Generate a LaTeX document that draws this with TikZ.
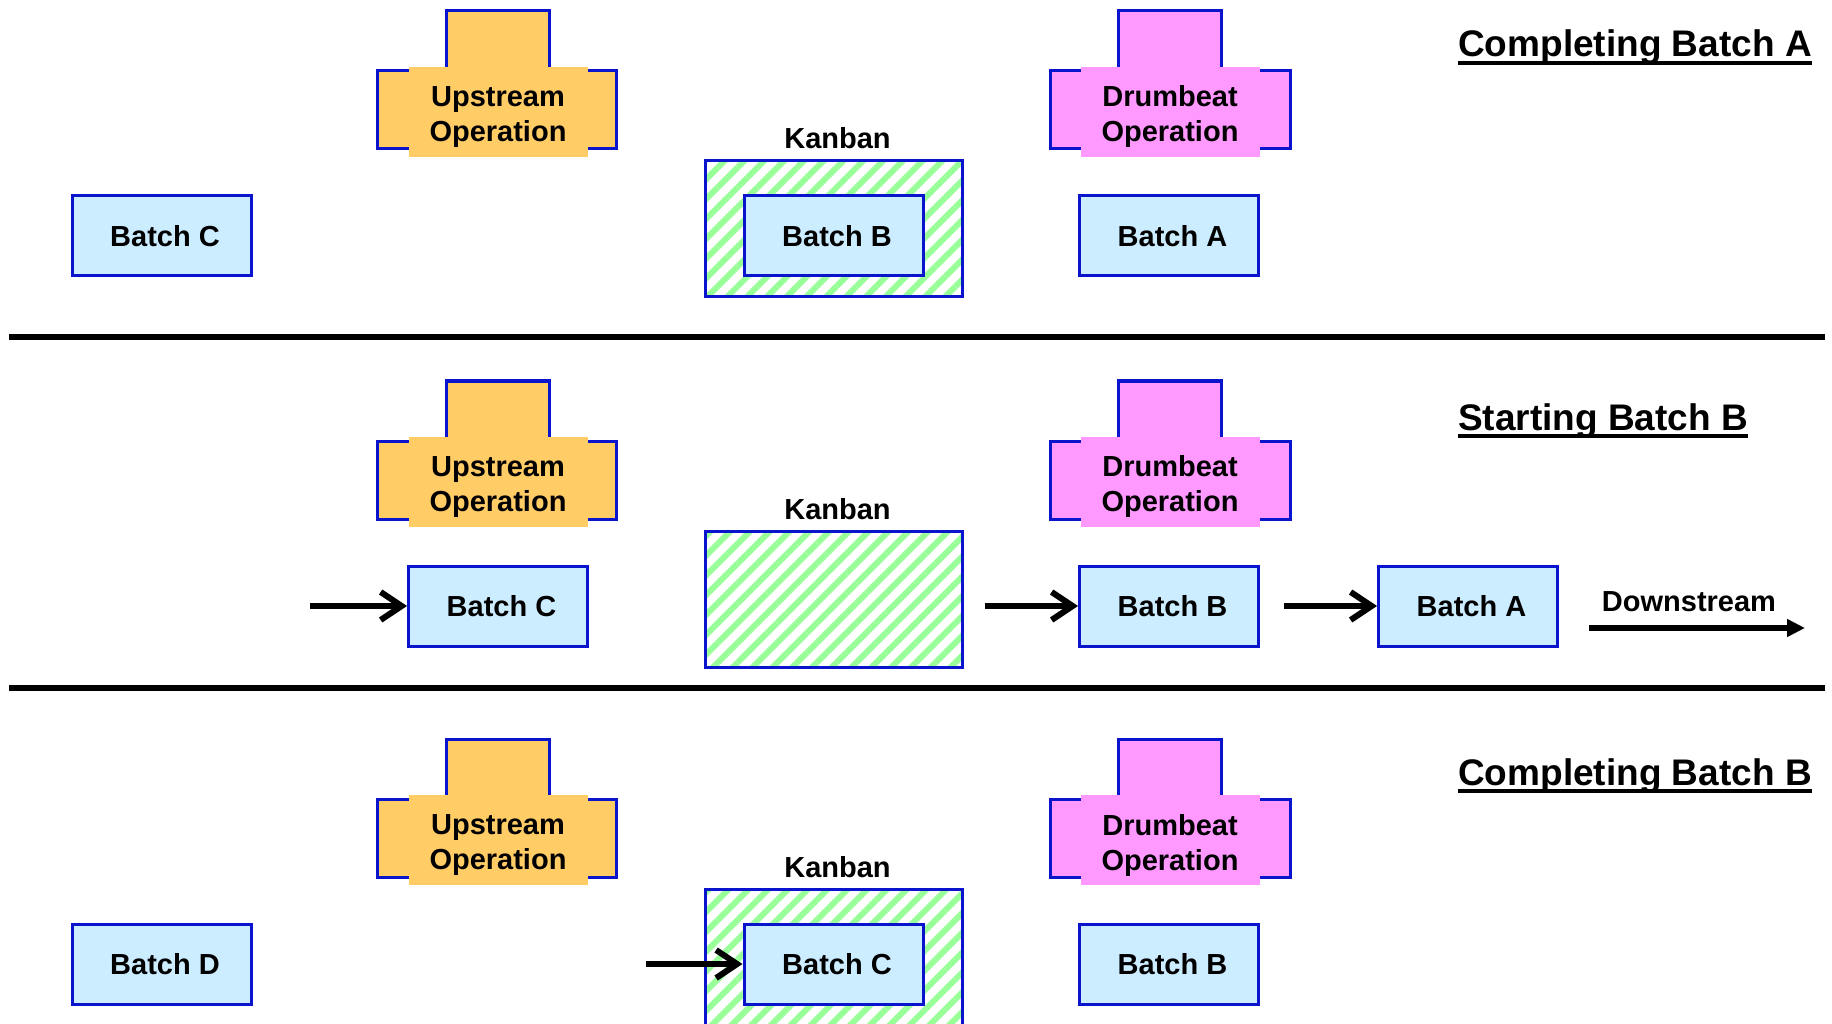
\documentclass[tikz,border=0pt]{standalone}
\usepackage{fontspec}
\setmainfont{Liberation Sans}
\usetikzlibrary{arrows.meta}
\usetikzlibrary{patterns.meta}
\usetikzlibrary{calc}
\usetikzlibrary{positioning}

\definecolor{opyellow}{RGB}{255,204,102}
\definecolor{drumpink}{RGB}{255,153,255}
\definecolor{batchblue}{RGB}{204,236,255}
\definecolor{edgeblue}{RGB}{10,20,204}
\definecolor{kangreen}{RGB}{153,255,153}

\begin{document}
\begin{tikzpicture}[x=1pt,y=-1pt,
    lbl/.style={inner sep=0pt,font=\fontsize{29}{35}\selectfont\bfseries},
    batch/.style={lbl,draw=edgeblue,line width=3pt,fill=batchblue,
      minimum width=179pt,minimum height=80pt,
      execute at begin node=\hspace*{7pt}},
    opfill/.style={inner sep=0pt,minimum width=179pt,minimum height=90pt},
    opedge/.style={draw=edgeblue,line width=3pt},
    kanbox/.style={draw=edgeblue,line width=3pt,inner sep=0pt,
      minimum width=257pt,minimum height=136pt,
      pattern={Lines[angle=45,distance=14pt,line width=6pt]},pattern color=kangreen},
    title/.style={inner sep=0pt,font=\fontsize{37}{44}\selectfont\bfseries},
    uline/.style={line width=3.5pt},
    sep/.style={line width=6pt},
    flow/.style={line width=6pt,-{Straight Barb[length=21pt,width=28pt]}},
    outflow/.style={line width=5.5pt,-{Triangle[length=18pt,width=17pt]}}]
\useasboundingbox (0,0) rectangle (1832,1024);
\clip (0,0) rectangle (1832,1024);

% the two operations and the kanban, same in each panel
\foreach \p/\dy in {1/0,2/370,3/728}{
  \coordinate (up\p) at (498,112+\dy);
  \filldraw[opedge,fill=opyellow] ($(up\p)+(-51.5,-101)$) rectangle ($(up\p)+(51.5,-41)$);
  \filldraw[opedge,fill=opyellow] ($(up\p)+(-120.5,-41)$) rectangle ($(up\p)+(118.5,37)$);
  \node[opfill,fill=opyellow] (upf\p) at (up\p) {};
  \node[lbl,align=center] (upl\p) at ([yshift=-5pt]up\p) {Upstream\\Operation};

  \coordinate (drum\p) at (1170,112+\dy);
  \filldraw[opedge,fill=drumpink] ($(drum\p)+(-51.5,-101)$) rectangle ($(drum\p)+(51.5,-41)$);
  \filldraw[opedge,fill=drumpink] ($(drum\p)+(-120,-41)$) rectangle ($(drum\p)+(120,37)$);
  \node[opfill,fill=drumpink] (drumf\p) at (drum\p) {};
  \node[lbl,align=center] (druml\p) at ([yshift=-5pt]drum\p) {Drumbeat\\Operation};

  \node[kanbox] (kan\p) at (833.5,229+\dy) {};
  \node[lbl,above=9.5pt of kan\p,xshift=4pt] (kanl\p) {Kanban};
}

% completing batch A
\node[title,anchor=base west] (t1) at (1458,57) {Completing Batch A};
\draw[uline] ([yshift=-6pt]t1.base west) -- ([yshift=-6pt]t1.base east);
\node[batch] (bc1) at (161.5,236) {Batch C};
\node[batch] (bb1) at (833.5,236) {Batch B};
\node[batch] (ba1) at (1169,236) {Batch A};

\draw[sep] (9,337) -- (1825,337);

% starting batch B
\node[title,anchor=base west] (t2) at (1458,430) {Starting Batch B};
\draw[uline] ([yshift=-6pt]t2.base west) -- ([yshift=-6pt]t2.base east);
\node[batch] (bc2) at (498,606) {Batch C};
\node[batch] (bb2) at (1169,606) {Batch B};
\node[batch] (ba2) at (1468,606) {Batch A};
\coordinate (in2) at (310,606);
\draw[flow] (in2) -- (bc2.west);
\draw[flow,shorten <=21pt] (kan2.east |- bb2) -- (bb2.west);
\draw[flow,shorten <=24pt] (bb2.east) -- (ba2.west);
\node[lbl] (ds) at (1689,602) {Downstream};
\coordinate (dsa) at (1589,628);
\coordinate (dsb) at (1805,628);
\draw[outflow] (dsa) -- (dsb);

\draw[sep] (9,688) -- (1825,688);

% completing batch B
\node[title,anchor=base west] (t3) at (1458,785) {Completing Batch B};
\draw[uline] ([yshift=-6pt]t3.base west) -- ([yshift=-6pt]t3.base east);
\node[batch] (bd3) at (161.5,964) {Batch D};
\node[batch] (bc3) at (833.5,964) {Batch C};
\node[batch] (bb3) at (1169,964) {Batch B};
\coordinate (in3) at (646,964);
\draw[flow] (in3) -- (bc3.west);
\end{tikzpicture}
\end{document}
